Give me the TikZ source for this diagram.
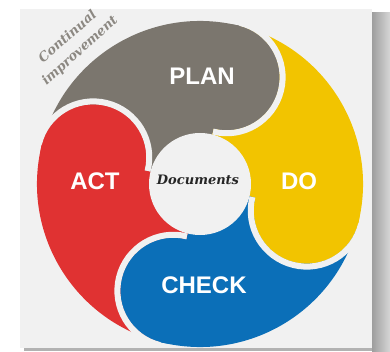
\documentclass[tikz,border=0pt]{standalone}
\usepackage{fontspec}
\setmainfont{Liberation Sans}
\newfontfamily\serifdv{DejaVu Serif}
\definecolor{plangray}{HTML}{7B766E}
\definecolor{actred}{HTML}{E03232}
\definecolor{doyellow}{HTML}{F2C400}
\definecolor{checkblue}{HTML}{0B6FB8}
\definecolor{panel}{HTML}{F1F1F1}
\definecolor{txtgray}{HTML}{8C8882}
\tikzset{
  label/.style={font=\bfseries\fontsize{24}{24}\selectfont, text=white, inner sep=0pt},
  gapline/.style={draw=panel, line width=6pt},
  caption/.style={font=\serifdv\bfseries\itshape\fontsize{13}{13}\selectfont, text=txtgray, inner sep=0pt},
}
\begin{document}
\begin{tikzpicture}[x=1pt,y=1pt]
\useasboundingbox (0,0) rectangle (390,351);
\fill[white] (0,0) rectangle (390,351);
% shadow
\shade[left color=black!38, right color=black!16] (372,0) rectangle (390,338);
\fill[black!30] (24,0) rectangle (372,3);
\fill[panel] (20,3) rectangle (372,342);
\coordinate (C) at (200,167);
% sectors
\foreach \ang/\col in {76/plangray, -14/doyellow, -104/checkblue, 166/actred}
  \fill[\col] (C) -- ++(\ang:163) arc[start angle=\ang, end angle=\ang+90, radius=163] -- cycle;
% heads
\foreach \ang/\col in {76/plangray, -14/doyellow, -104/checkblue, 166/actred}
  \fill[\col] (C) ++(\ang:110) circle[radius=53.1];
% gaps
\foreach \ang in {76,-14,-104,166}
  \draw[gapline] (C) ++(\ang:110) ++(\ang:56) arc[start angle=\ang, end angle=\ang-180, radius=56];
% centre
\node[circle, fill=panel, minimum size=102pt, inner sep=0pt] (doc) at (C) {};
\node[font=\serifdv\bfseries\itshape\fontsize{13}{13}\selectfont, text=black!85, inner sep=0pt] (doctxt) at (198,171) {Documents};
\node[label] (plan) at (202,275) {PLAN};
\node[label] (act) at (95,170) {ACT};
\node[label] (do) at (299,170) {DO};
\node[label] (check) at (204,66) {CHECK};
% caption
\node[caption, rotate=41] (cont) at (67,315) {Continual};
\node[caption, rotate=42] (impr) at (80,300) {improvement};
\end{tikzpicture}
\end{document}
